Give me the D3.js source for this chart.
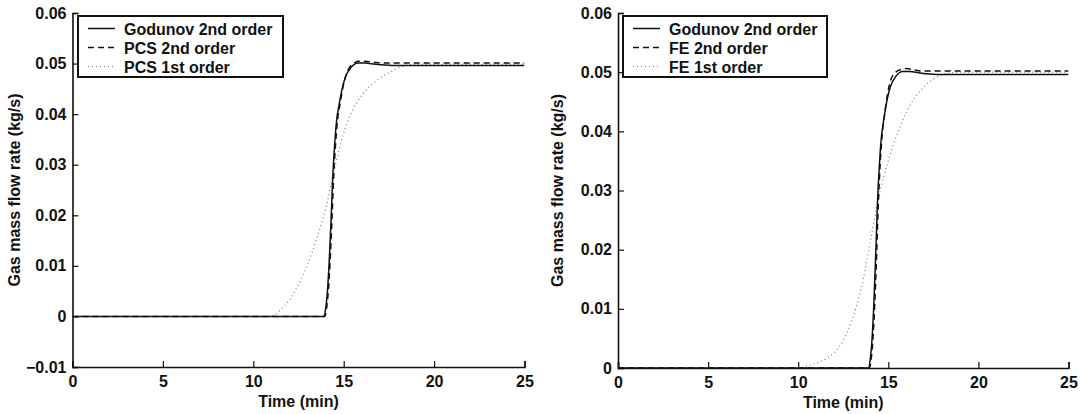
<!DOCTYPE html>
<html>
<head>
<meta charset="utf-8">
<script src="https://cdn.jsdelivr.net/npm/d3@7"></script>
<style>
  html, body { margin: 0; padding: 0; background: #fff; }
  svg { display: block; }
  text { font-family: "Liberation Sans", Arial, Helvetica, sans-serif; font-weight: bold; fill: #111; }
</style>
</head>
<body>
<svg id="chart" width="1081" height="414"></svg>
<script>
// Time (min) / gas mass flow rate (kg/s) series
const godunovT = [0, 13.9, 14.0, 14.1, 14.2, 14.3, 14.4, 14.5, 14.6, 14.75, 14.9, 15.1, 15.4, 15.8, 16.2, 16.7, 17.3, 18, 25];
const godunovV = [0, 0, 0.0015, 0.005, 0.011, 0.019, 0.028, 0.034, 0.0385, 0.042, 0.0448, 0.0474, 0.0492, 0.0501, 0.0501, 0.0499, 0.0497, 0.0496, 0.0496];

const pcs2T = [0, 13.95, 14.05, 14.15, 14.25, 14.35, 14.45, 14.55, 14.65, 14.8, 14.95, 15.15, 15.45, 15.9, 16.3, 16.8, 17.4, 25];
const pcs2V = [0, 0, 0.0015, 0.005, 0.011, 0.019, 0.028, 0.034, 0.0385, 0.042, 0.0452, 0.0479, 0.0498, 0.0505, 0.0504, 0.0502, 0.0501, 0.0501];

const pcs1T = [0, 10.9, 11.5, 12.0, 12.5, 13.0, 13.5, 14.0, 14.5, 15.0, 15.5, 16.0, 16.5, 17.0, 17.5, 18.0, 18.5, 19, 25];
const pcs1V = [0, 0, 0.0013, 0.0033, 0.0063, 0.0103, 0.0153, 0.0213, 0.0293, 0.0363, 0.0408, 0.0437, 0.0457, 0.0471, 0.0482, 0.0491, 0.0497, 0.0499, 0.0499];

const fe2T = [0, 13.95, 14.05, 14.15, 14.25, 14.35, 14.45, 14.55, 14.65, 14.8, 14.95, 15.15, 15.45, 15.75, 16.0, 16.4, 16.9, 17.5, 25];
const fe2V = [0, 0, 0.0015, 0.005, 0.011, 0.019, 0.028, 0.0345, 0.039, 0.043, 0.0462, 0.0488, 0.0501, 0.0505, 0.0506, 0.0504, 0.0502, 0.0502, 0.0502];

const fe1T = [0, 10.0, 10.5, 11.0, 11.5, 12.0, 12.5, 13.0, 13.5, 14.0, 14.5, 15.0, 15.5, 16.0, 16.5, 17.0, 17.5, 18.0, 18.5, 19, 25];
const fe1V = [0, 0, 0.0003, 0.0008, 0.0015, 0.0026, 0.0047, 0.0083, 0.0135, 0.0213, 0.0293, 0.0350, 0.0396, 0.0432, 0.0458, 0.0476, 0.0488, 0.0496, 0.0499, 0.0500, 0.0500];

// Axis ticks
const xTicks = [0, 5, 10, 15, 20, 25];
const yTicksLeft = [-0.01, 0, 0.01, 0.02, 0.03, 0.04, 0.05, 0.06];
const yTicksRight = [0, 0.01, 0.02, 0.03, 0.04, 0.05, 0.06];

const xLabel = "Time (min)";
const yLabel = "Gas mass flow rate (kg/s)";

const FONT = 16;
const svg = d3.select("#chart");

const styles = {
  solid:  { stroke: "#111", width: 1.5, dash: null },
  dashed: { stroke: "#111", width: 1.5, dash: "6,4" },
  dotted: { stroke: "#777", width: 1.2, dash: "1,3" }
};

function zip(t, v) { return t.map((d, i) => [d, v[i]]); }

function styleText(sel) {
  sel.attr("font-size", FONT).attr("fill", "#111")
    .style("font-family", '"Liberation Sans", Arial, sans-serif').style("font-weight", "bold");
}

function drawPanel(cfg) {
  const x = d3.scaleLinear().domain([0, 25]).range([cfg.x0, cfg.x1]);
  const y = d3.scaleLinear().domain(cfg.yDomain).range([cfg.y1, cfg.y0]);
  const g = svg.append("g");

  // curves, clipped to the plot area
  const clipId = "clip" + cfg.id;
  svg.append("defs").append("clipPath").attr("id", clipId)
    .append("rect").attr("x", cfg.x0).attr("y", cfg.y0 - 2)
    .attr("width", cfg.x1 - cfg.x0).attr("height", cfg.y1 - cfg.y0 + 2);

  const line = d3.line().x(d => x(d[0])).y(d => y(d[1])).curve(d3.curveMonotoneX);
  const plot = g.append("g").attr("clip-path", `url(#${clipId})`);
  cfg.series.slice().reverse().forEach(s => {
    const st = styles[s.style];
    plot.append("path")
      .attr("d", line(zip(s.t, s.v)))
      .attr("fill", "none")
      .attr("stroke", st.stroke)
      .attr("stroke-width", st.width)
      .attr("stroke-dasharray", st.dash);
  });

  // x axis (inward ticks)
  const xAxis = d3.axisBottom(x).tickValues(xTicks).tickSize(-6).tickPadding(9).tickFormat(d3.format("d"));
  const gx = g.append("g").attr("transform", `translate(0,${cfg.y1})`).call(xAxis);
  gx.select(".domain").attr("stroke", "#111").attr("stroke-width", 1.6);
  gx.selectAll(".tick line").attr("stroke", "#111").attr("stroke-width", 1.2);
  styleText(gx.selectAll("text"));

  // y axis (inward ticks)
  const yAxis = d3.axisLeft(y).tickValues(cfg.yTicks).tickSize(-6).tickPadding(6)
    .tickFormat(d => d === 0 ? "0" : d3.format(".2f")(d));
  const gy = g.append("g").attr("transform", `translate(${cfg.x0},0)`).call(yAxis);
  gy.select(".domain").attr("stroke", "#111").attr("stroke-width", 1.6);
  gy.selectAll(".tick line").attr("stroke", "#111").attr("stroke-width", 1.2);
  styleText(gy.selectAll("text"));

  // axis titles
  g.append("text")
    .attr("x", (cfg.x0 + cfg.x1) / 2).attr("y", cfg.y1 + 40)
    .attr("text-anchor", "middle").attr("font-size", FONT).text(xLabel);
  g.append("text")
    .attr("transform", `translate(${cfg.yLabelX},${(cfg.y0 + cfg.y1) / 2}) rotate(-90)`)
    .attr("text-anchor", "middle").attr("font-size", FONT).text(yLabel);

  // legend
  const lg = g.append("g").attr("transform", `translate(${cfg.legend.x},${cfg.legend.y})`);
  lg.append("rect").attr("width", cfg.legend.w).attr("height", 61)
    .attr("fill", "#fff").attr("stroke", "#111").attr("stroke-width", 2);
  cfg.series.forEach((s, i) => {
    const st = styles[s.style];
    const yy = 12.5 + i * 19;
    lg.append("line").attr("x1", 10).attr("x2", 37).attr("y1", yy).attr("y2", yy)
      .attr("stroke", st.stroke).attr("stroke-width", st.width).attr("stroke-dasharray", st.dash);
    lg.append("text").attr("x", 46).attr("y", yy + 6).attr("font-size", FONT).text(s.name);
  });
}

drawPanel({
  id: "L", x0: 72.5, x1: 524.5, y0: 13, y1: 367, yDomain: [-0.01, 0.06], yTicks: yTicksLeft,
  yLabelX: 20,
  legend: { x: 78, y: 16, w: 205 },
  series: [
    { name: "Godunov 2nd order", t: godunovT, v: godunovV, style: "solid" },
    { name: "PCS 2nd order", t: pcs2T, v: pcs2V, style: "dashed" },
    { name: "PCS 1st order", t: pcs1T, v: pcs1V, style: "dotted" }
  ]
});

drawPanel({
  id: "R", x0: 618, x1: 1068.5, y0: 13, y1: 368, yDomain: [0, 0.06], yTicks: yTicksRight,
  yLabelX: 563,
  legend: { x: 623, y: 16, w: 204 },
  series: [
    { name: "Godunov 2nd order", t: godunovT, v: godunovV, style: "solid" },
    { name: "FE 2nd order", t: fe2T, v: fe2V, style: "dashed" },
    { name: "FE 1st order", t: fe1T, v: fe1V, style: "dotted" }
  ]
});
</script>
</body>
</html>
